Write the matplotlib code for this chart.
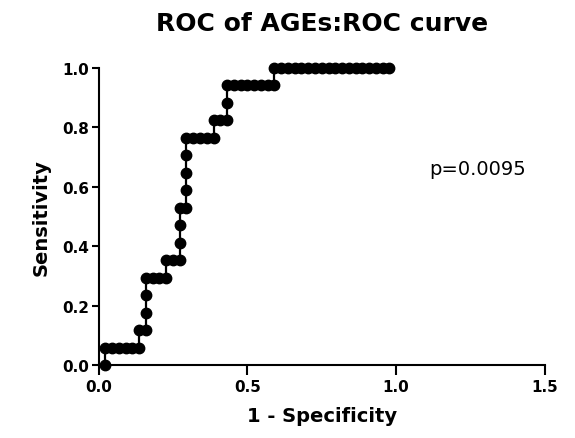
import matplotlib
matplotlib.use("Agg")
import matplotlib.pyplot as plt

# Data: ROC points (1 - specificity, sensitivity); 44 controls, 17 cases
n_neg = 44
n_pos = 17
fp_counts = [1, 1, 2, 3, 4, 5, 6, 6, 7, 7, 7, 7, 8, 9, 10, 10, 11, 12,
             12, 12, 12, 13, 13, 13, 13, 13, 14, 15, 16, 17, 17, 18, 19,
             19, 19, 20, 21, 22, 23, 24, 25, 26, 26, 27, 28, 29, 30, 31,
             32, 33, 34, 35, 36, 37, 38, 39, 40, 41, 42, 43]
tp_counts = [0, 1, 1, 1, 1, 1, 1, 2, 2, 3, 4, 5, 5, 5, 5, 6, 6, 6,
             7, 8, 9, 9, 10, 11, 12, 13, 13, 13, 13, 13, 14, 14, 14,
             15, 16, 16, 16, 16, 16, 16, 16, 16, 17, 17, 17, 17, 17, 17,
             17, 17, 17, 17, 17, 17, 17, 17, 17, 17, 17, 17]
one_minus_spec = [c / n_neg for c in fp_counts]
sensitivity = [c / n_pos for c in tp_counts]

x_ticks = [0.0, 0.5, 1.0, 1.5]
y_ticks = [0.0, 0.2, 0.4, 0.6, 0.8, 1.0]
p_text = "p=0.0095"

plt.rcParams['font.family'] = ['DejaVu Sans']

fig = plt.figure(figsize=(5.75, 4.39), dpi=100)
ax = fig.add_axes([98.5 / 575, 73 / 439, 446.5 / 575, 297 / 439])

ax.plot(one_minus_spec, sensitivity, '-o', color='black', lw=1.6,
        markersize=7.5, clip_on=False, zorder=3)

ax.set_xlim(0, 1.5)
ax.set_ylim(0, 1.0)
ax.set_xticks(x_ticks)
ax.set_yticks(y_ticks)
ax.set_xticklabels([f"{t:.1f}" for t in x_ticks], fontsize=11, fontweight='bold')
ax.set_yticklabels([f"{t:.1f}" for t in y_ticks], fontsize=11, fontweight='bold')

for s in ['top', 'right']:
    ax.spines[s].set_visible(False)
for s in ['left', 'bottom']:
    ax.spines[s].set_linewidth(1.5)
ax.tick_params(axis='both', width=1.5, direction='out', colors='black')
ax.tick_params(axis='y', length=5, pad=2)
ax.tick_params(axis='x', length=7, pad=3)

ax.set_xlabel("1 - Specificity", fontsize=14, fontweight='bold', labelpad=9)
ax.set_ylabel("Sensitivity", fontsize=14, fontweight='bold', labelpad=8)
ax.set_title("ROC of AGEs:ROC curve", fontsize=18, fontweight='bold', pad=27)

ax.text(1.11, 0.66, p_text, fontsize=14, va='center', ha='left')

fig.savefig("out.png", dpi=100)
